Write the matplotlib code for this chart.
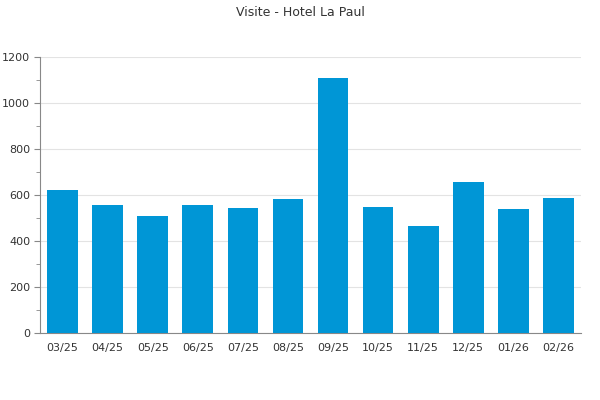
import matplotlib
matplotlib.use("Agg")
import matplotlib.pyplot as plt
from matplotlib.ticker import MultipleLocator

months = ["03/25", "04/25", "05/25", "06/25", "07/25", "08/25",
          "09/25", "10/25", "11/25", "12/25", "01/26", "02/26"]
visits = [622, 558, 510, 557, 545, 584, 1109, 549, 465, 657, 539, 587]

fig = plt.figure(figsize=(6, 4), dpi=100)
ax = fig.add_axes([40/600, 67/400, 541/600, 276/400])

x = list(range(len(months)))
ax.bar(x, visits, width=0.68, color="#0096d6", zorder=3)
ax.set_xlim(-0.5, len(months) - 0.5)
ax.set_ylim(0, 1200)
ax.set_xticks(x)
ax.set_xticklabels(months)
ax.yaxis.set_major_locator(MultipleLocator(200))
ax.yaxis.set_minor_locator(MultipleLocator(100))
ax.grid(axis="y", color="#e3e3e3", linewidth=0.8, zorder=0)
for s in ["top", "right"]:
    ax.spines[s].set_visible(False)
for s in ["left", "bottom"]:
    ax.spines[s].set_color("#888888")
    ax.spines[s].set_linewidth(0.8)
ax.tick_params(axis="y", which="major", length=4, color="#888888",
               labelsize=8, labelcolor="#333333", pad=3)
ax.tick_params(axis="y", which="minor", length=3, color="#888888")
ax.tick_params(axis="x", length=0, labelsize=8, labelcolor="#333333", pad=7)
fig.suptitle("Visite - Hotel La Paul", y=0.985, fontsize=9, color="#333333")
fig.savefig("out.png", dpi=100)
